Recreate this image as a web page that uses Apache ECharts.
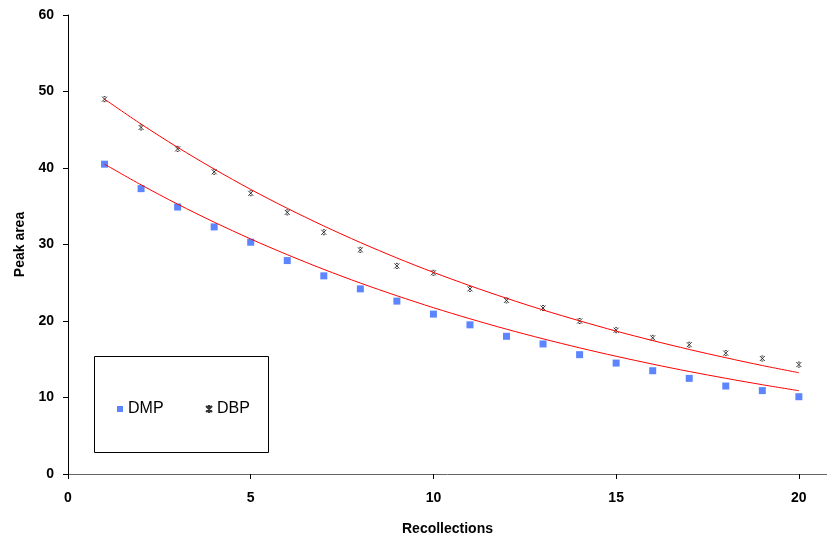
<!DOCTYPE html>
<html>
<head>
<meta charset="utf-8">
<script src="https://cdn.jsdelivr.net/npm/echarts@6/dist/echarts.min.js"></script>
<style>html,body{margin:0;padding:0;background:#fff}#c{width:827px;height:536px}</style>
</head>
<body>
<div id="c"></div>
<script>
var recollections = [1,2,3,4,5,6,7,8,9,10,11,12,13,14,15,16,17,18,19,20];
var dmp = [40.5,37.3,34.9,32.3,30.3,27.9,25.9,24.2,22.6,20.9,19.5,18.0,17.0,15.6,14.5,13.5,12.5,11.5,10.9,10.1];
var dbp = [49.0,45.3,42.5,39.5,36.7,34.2,31.6,29.3,27.2,26.3,24.2,22.7,21.7,20.0,18.8,17.8,16.9,15.8,15.1,14.3];
// exponential trendlines, values at each recollection
var dmpTrend = [40.50,37.80,35.27,32.92,30.72,28.67,26.75,24.96,23.30,21.74,20.29,18.93,17.67,16.49,15.39,14.36,13.40,12.51,11.67,10.89];
var dbpTrend = [49.00,45.74,42.70,39.86,37.20,34.73,32.42,30.26,28.24,26.36,24.61,22.97,21.44,20.02,18.68,17.44,16.28,15.20,14.18,13.24];
var xTicks = [0,5,10,15,20];

function pairs(xs, ys) { return xs.map(function (x, i) { return [x, ys[i]]; }); }

var chart = echarts.init(document.getElementById('c'), null, {renderer: 'canvas'});
var font = 'Liberation Sans, Arial, sans-serif';
var starPath = 'path://M0,0L10,10M10,0L0,10M3,0L7,0M3,10L7,10';

chart.setOption({
  animation: false,
  backgroundColor: '#fff',
  grid: {left: 68, right: 0, top: 15, bottom: 62, containLabel: false, outerBoundsMode: 'none'},
  xAxis: {
    type: 'value', min: 0, max: 20.77,
    name: 'Recollections', nameLocation: 'middle', nameGap: 48,
    nameTextStyle: {fontFamily: font, fontSize: 14, fontWeight: 'bold', color: '#000'},
    axisLine: {onZero: false, lineStyle: {color: '#666', width: 1}},
    axisTick: {show: true, inside: false, length: 5, customValues: xTicks, lineStyle: {color: '#000'}},
    axisLabel: {customValues: xTicks, margin: 17, fontFamily: font, fontSize: 14, fontWeight: 'bold', color: '#000'},
    splitLine: {show: false}
  },
  yAxis: {
    type: 'value', min: 0, max: 60, interval: 10,
    name: 'Peak area', nameLocation: 'middle', nameGap: 41, nameRotate: 90,
    nameTextStyle: {fontFamily: font, fontSize: 14, fontWeight: 'bold', color: '#000'},
    axisLine: {show: true, lineStyle: {color: '#000', width: 1}},
    axisTick: {show: true, inside: false, length: 5, lineStyle: {color: '#000'}},
    axisLabel: {margin: 14, fontFamily: font, fontSize: 14, fontWeight: 'bold', color: '#000'},
    splitLine: {show: false}
  },
  legend: {
    left: 112, top: 396, orient: 'horizontal', itemGap: 40,
    itemWidth: 6, itemHeight: 6,
    textStyle: {fontFamily: font, fontSize: 16, color: '#000'},
    data: [
      {name: 'DMP', icon: 'rect'},
      {name: 'DBP', icon: starPath}
    ]
  },
  graphic: [{
    type: 'rect', z: 0,
    shape: {x: 94.5, y: 356.5, width: 174, height: 96},
    style: {fill: '#fff', stroke: '#000', lineWidth: 1}
  }],
  series: [
    {
      name: 'DMP', type: 'scatter', symbol: 'rect', symbolSize: 7,
      itemStyle: {color: '#3366ff'},
      data: pairs(recollections, dmp), z: 2
    },
    {
      name: 'DBP', type: 'scatter', symbol: starPath, symbolSize: 5,
      itemStyle: {color: 'none', borderColor: '#000', borderWidth: 1},
      data: pairs(recollections, dbp), z: 2
    },
    {
      name: 'DMP trend', type: 'line', showSymbol: false, symbol: 'none', smooth: 0.3,
      lineStyle: {color: '#ff0000', width: 1}, data: pairs(recollections, dmpTrend), z: 3, silent: true
    },
    {
      name: 'DBP trend', type: 'line', showSymbol: false, symbol: 'none', smooth: 0.3,
      lineStyle: {color: '#ff0000', width: 1}, data: pairs(recollections, dbpTrend), z: 3, silent: true
    }
  ]
});
</script>
</body>
</html>
